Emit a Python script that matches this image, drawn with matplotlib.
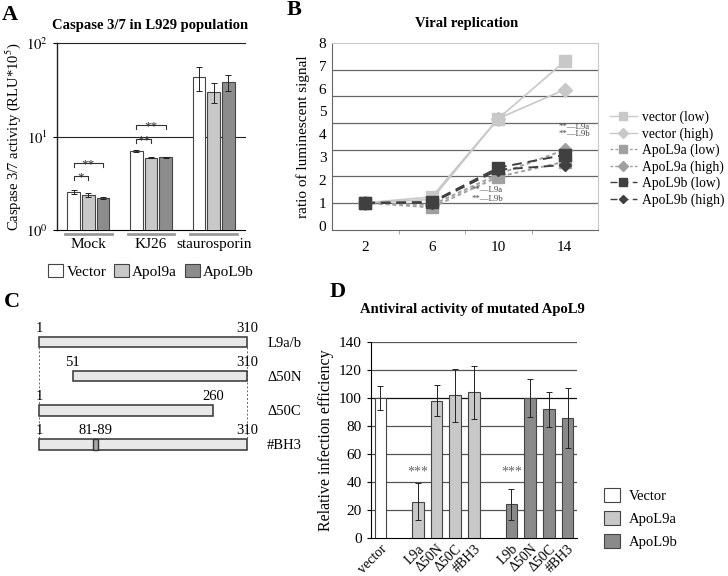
import numpy as np
import matplotlib
matplotlib.use('Agg')
import matplotlib.pyplot as plt
import matplotlib.transforms as mtrans
from matplotlib.patches import Patch, Rectangle
from matplotlib.lines import Line2D

plt.rcParams['font.family'] = ['Liberation Serif', 'DejaVu Serif']
plt.rcParams['mathtext.fontset'] = 'stix'

# ---- panel A data
groups_a = ['Mock', 'KJ26', 'staurosporin']
series_a = ['Vector', 'Apol9a', 'ApoL9b']
vector_a = [2.55, 7.0, 43]
apol9a_a = [2.37, 5.95, 30]
apol9b_a = [2.2, 6.0, 38]
vector_err = [0.15, 0.2, 12]
apol9a_err = [0.12, 0.06, 7]
apol9b_err = [0.08, 0.06, 7]
# (group, from bar, to bar, level, label)
brackets_a = [(0, 0, 1, 3.8, '*'), (0, 0, 2, 5.2, '**'),
              (1, 0, 1, 9.4, '**'), (1, 0, 2, 13.3, '**')]

# ---- panel B data
days = ['2', '6', '10', '14']
vec_low = [1.0, 1.26, 4.69, 7.2]
vec_high = [1.0, 1.15, 4.69, 5.96]
l9a_low = [1.0, 0.8, 2.14, 2.8]
l9a_high = [1.0, 0.9, 2.25, 3.32]
l9b_low = [1.0, 1.04, 2.54, 3.1]
l9b_high = [1.0, 1.0, 2.45, 2.66]

# ---- panel C data
constructs = ['L9a/b', '\u039450N', '\u039450C', '#BH3']
c_start = [1, 51, 1, 1]
c_end = [310, 310, 260, 310]
bh3 = (81, 89)

# ---- panel D data
d_labels = ['vector', '', 'L9a', '\u039450N', '\u039450C', '#BH3', '',
            'L9b', '\u039450N', '\u039450C', '#BH3']
d_values = [100, np.nan, 26, 98, 102, 104, np.nan, 24, 100, 92, 86]
d_err = [8.5, np.nan, 13, 11, 19, 19, np.nan, 11, 13.5, 12.5, 21.5]
d_group = ['Vector', '', 'ApoL9a', 'ApoL9a', 'ApoL9a', 'ApoL9a', '',
           'ApoL9b', 'ApoL9b', 'ApoL9b', 'ApoL9b']

W, H = 728, 576
def fx(px):
    return px / W
def fy(py):
    return 1 - py / H

fig = plt.figure(figsize=(7.28, 5.76), dpi=100)

def letter(x, y, s):
    fig.text(fx(x), fy(y), s, fontsize=16, fontweight='bold', ha='center', va='center')

# ================= A
axA = fig.add_axes([fx(57), fy(230), 188 / W, 187 / H])
cols_a = ['white', '#c8c8c8', '#8c8c8c']
xa = np.arange(len(groups_a))
for i, (vals, errs) in enumerate([(vector_a, vector_err), (apol9a_a, apol9a_err), (apol9b_a, apol9b_err)]):
    axA.bar(xa + (i - 1) * 0.235, vals, width=0.2, color=cols_a[i], edgecolor='#444',
            linewidth=0.8, yerr=errs, error_kw=dict(elinewidth=0.7, capsize=2, capthick=0.7, ecolor='#222'),
            label=series_a[i], zorder=3)
axA.set_yscale('log')
axA.set_ylim(1, 100)
axA.set_xlim(-0.5, 2.5)
axA.set_yticks([1, 10, 100])
axA.set_yticklabels(['$10^0$', '$10^1$', '$10^2$'], fontsize=10.5)
axA.yaxis.set_minor_locator(matplotlib.ticker.NullLocator())
for g in [10, 100]:
    axA.axhline(g, color='#222', lw=0.8, zorder=1, clip_on=False)
axA.spines['top'].set_visible(False)
axA.spines['right'].set_visible(False)
axA.spines['left'].set_color('#222')
axA.spines['left'].set_linewidth(1.0)
axA.set_xticks(xa)
axA.set_xticklabels(groups_a, fontsize=11)
axA.tick_params(axis='x', length=0, pad=6)
axA.tick_params(axis='y', length=3)
tr = mtrans.blended_transform_factory(axA.transData, axA.transAxes)
for i in xa:
    axA.plot([i - 0.37, i + 0.37], [-0.022, -0.022], transform=tr, color='#999', lw=2, clip_on=False)
for g, a, b, lev, s in brackets_a:
    x0 = g + (a - 1) * 0.235
    x1 = g + (b - 1) * 0.235
    axA.plot([x0, x0, x1, x1], [lev * 0.9, lev, lev, lev * 0.9], color='#333', lw=0.8, zorder=4)
    axA.text((x0 + x1) / 2, lev * 0.9, s, ha='center', va='baseline', fontsize=9.5, color='#333')
axA.set_ylabel('Caspase 3/7 activity (RLU*10$^5$)', fontsize=10.5, labelpad=2)
axA.legend(loc='upper center', bbox_to_anchor=(0.5, -0.14), ncol=3, frameon=False, fontsize=11,
           handlelength=1.0, handleheight=1.0, handletextpad=0.2, columnspacing=0.5, borderpad=0)
fig.text(fx(150), fy(26), 'Caspase 3/7 in L929 population', fontsize=10.5, fontweight='bold',
         ha='center', va='center')
letter(10, 15, 'A')

# ================= B
axB = fig.add_axes([fx(332), fy(230), 266 / W, 187 / H])
xb = np.arange(len(days))
styles = [
    (vec_low, 'vector (low)', '#c8c8c8', '-', 's', 9),
    (vec_high, 'vector (high)', '#c8c8c8', '-', 'D', 7),
    (l9a_low, 'ApoL9a (low)', '#a0a0a0', (0, (2, 1.5)), 's', 9),
    (l9a_high, 'ApoL9a (high)', '#a0a0a0', (0, (2, 1.5)), 'D', 7),
    (l9b_low, 'ApoL9b (low)', '#404040', (0, (5, 3)), 's', 8),
    (l9b_high, 'ApoL9b (high)', '#404040', (0, (5, 3)), 'D', 6),
]
handles_b = []
for vals, lab, c, ls, m, ms in styles:
    lw = 1.2 if ls == '-' else 1.4
    axB.plot(xb, vals, color=c, ls=ls, lw=lw, marker=m, ms=ms, mec=c, mfc=c, zorder=3)
    handles_b.append(Line2D([], [], color=c, ls=ls, lw=1.0, marker=m, ms=ms * 0.7, mec=c, mfc=c))
axB.set_xlim(-0.5, 3.5)
axB.set_ylim(-0.19, 8.0)
axB.set_yticks(range(9))
axB.tick_params(axis='y', length=0, labelsize=11, pad=4)
axB.set_xticks(xb)
axB.set_xticklabels(days, fontsize=11)
axB.set_xticks([0.5, 1.5, 2.5], minor=True)
axB.tick_params(axis='x', which='major', length=0, pad=8)
axB.tick_params(axis='x', which='minor', length=3, color='#999')
for g in np.linspace(1, 8, 7)[:-1]:
    axB.axhline(g, color='#666', lw=0.9, zorder=1)
for s in ['top', 'right']:
    axB.spines[s].set_color('#c8c8c8')
for s in ['left', 'bottom']:
    axB.spines[s].set_color('#666')
axB.set_ylabel('ratio of luminescent signal', fontsize=11, labelpad=6)
for x, y, s in [(1.6, 1.54, '**\u2014L9a'), (1.6, 1.17, '**\u2014L9b'),
                (2.9, 4.34, '**\u2014L9a'), (2.9, 4.03, '**\u2014L9b')]:
    axB.text(x, y, s, fontsize=6.3, color='#444', va='center')
fig.legend(handles=handles_b, labels=[s[1] for s in styles], loc='upper left',
           bbox_to_anchor=(fx(603), fy(104)), frameon=False, fontsize=9.8,
           handlelength=2.0, labelspacing=0.22, borderpad=0, handletextpad=0.4)
fig.text(fx(467), fy(23), 'Viral replication', fontsize=10.5, fontweight='bold', ha='center', va='center')
letter(294, 10, 'B')

# ================= C
axC = fig.add_axes([0, fy(470), 320 / W, 175 / H])
axC.set_xlim(-56.9, 418.5)
axC.set_ylim(3.76, -1.38)
axC.axis('off')
for xv in [1, 310]:
    axC.plot([xv, xv], [0.16, 3 - 0.16], color='#666', lw=0.7, ls=(0, (2, 2)), zorder=1)
for r, (name, s, e) in enumerate(zip(constructs, c_start, c_end)):
    axC.add_patch(Rectangle((s, r - 0.16), e - s, 0.32, facecolor='#e8e8e8', edgecolor='#333',
                            lw=1.1, zorder=2))
    axC.text(s, r - 0.2, str(s), ha='center', va='bottom', fontsize=10.5)
    axC.text(e, r - 0.2, str(e), ha='center', va='bottom', fontsize=10.5)
    axC.text(340, r + 0.05, name, ha='left', va='center', fontsize=10.5)
    if name == '#BH3':
        axC.add_patch(Rectangle((bh3[0], r - 0.16), bh3[1] - bh3[0], 0.32, facecolor='#a8a8a8',
                                edgecolor='#333', lw=1.0, zorder=3))
        axC.text(sum(bh3) / 2, r - 0.2, '%d-%d' % bh3, ha='center', va='bottom', fontsize=10.5)
letter(12, 302, 'C')

# ================= D
axD = fig.add_axes([fx(371), fy(538), 206 / W, 196 / H])
cmap_d = {'Vector': 'white', 'ApoL9a': '#c8c8c8', 'ApoL9b': '#8a8a8a'}
xd = np.arange(len(d_labels))
for i in xd:
    if np.isnan(d_values[i]):
        continue
    axD.bar(i, d_values[i], width=0.62, color=cmap_d[d_group[i]], edgecolor='#444', lw=0.8,
            yerr=d_err[i], error_kw=dict(elinewidth=0.7, capsize=2, capthick=0.7, ecolor='#222'), zorder=3)
axD.set_xlim(-0.5, 10.5)
axD.set_ylim(0, 140)
axD.set_yticks(range(0, 141, 20))
axD.tick_params(axis='y', length=3, labelsize=11)
for g in range(20, 141, 20):
    axD.axhline(g, color='#111' if g == 100 else '#555', lw=0.9, zorder=1)
axD.spines['top'].set_visible(False)
axD.spines['right'].set_visible(False)
keep = [i for i in xd if d_labels[i]]
axD.set_xticks(keep)
axD.set_xticklabels([d_labels[i] for i in keep], rotation=45, ha='right', rotation_mode='anchor',
                    fontsize=10)
axD.tick_params(axis='x', length=0, pad=3)
for i in xd:
    if d_labels[i] in ('L9a', 'L9b'):
        axD.text(i, 47, '***', ha='center', va='center', fontsize=10, color='#666')
axD.set_ylabel('Relative infection efficiency', fontsize=11.5, labelpad=4)
fig.text(fx(472), fy(310), 'Antiviral activity of mutated ApoL9', fontsize=10.5, fontweight='bold',
         ha='center', va='center')
letter(338, 292, 'D')
handles_d = [Patch(facecolor=cmap_d[k], edgecolor='#444', lw=0.8) for k in cmap_d]
fig.legend(handles=handles_d, labels=list(cmap_d), loc='upper left', bbox_to_anchor=(fx(597), fy(481)),
           frameon=False, fontsize=10.5, handlelength=1.1, handleheight=1.1, labelspacing=0.55,
           borderpad=0, handletextpad=0.6)

fig.savefig('out.png', dpi=100)
